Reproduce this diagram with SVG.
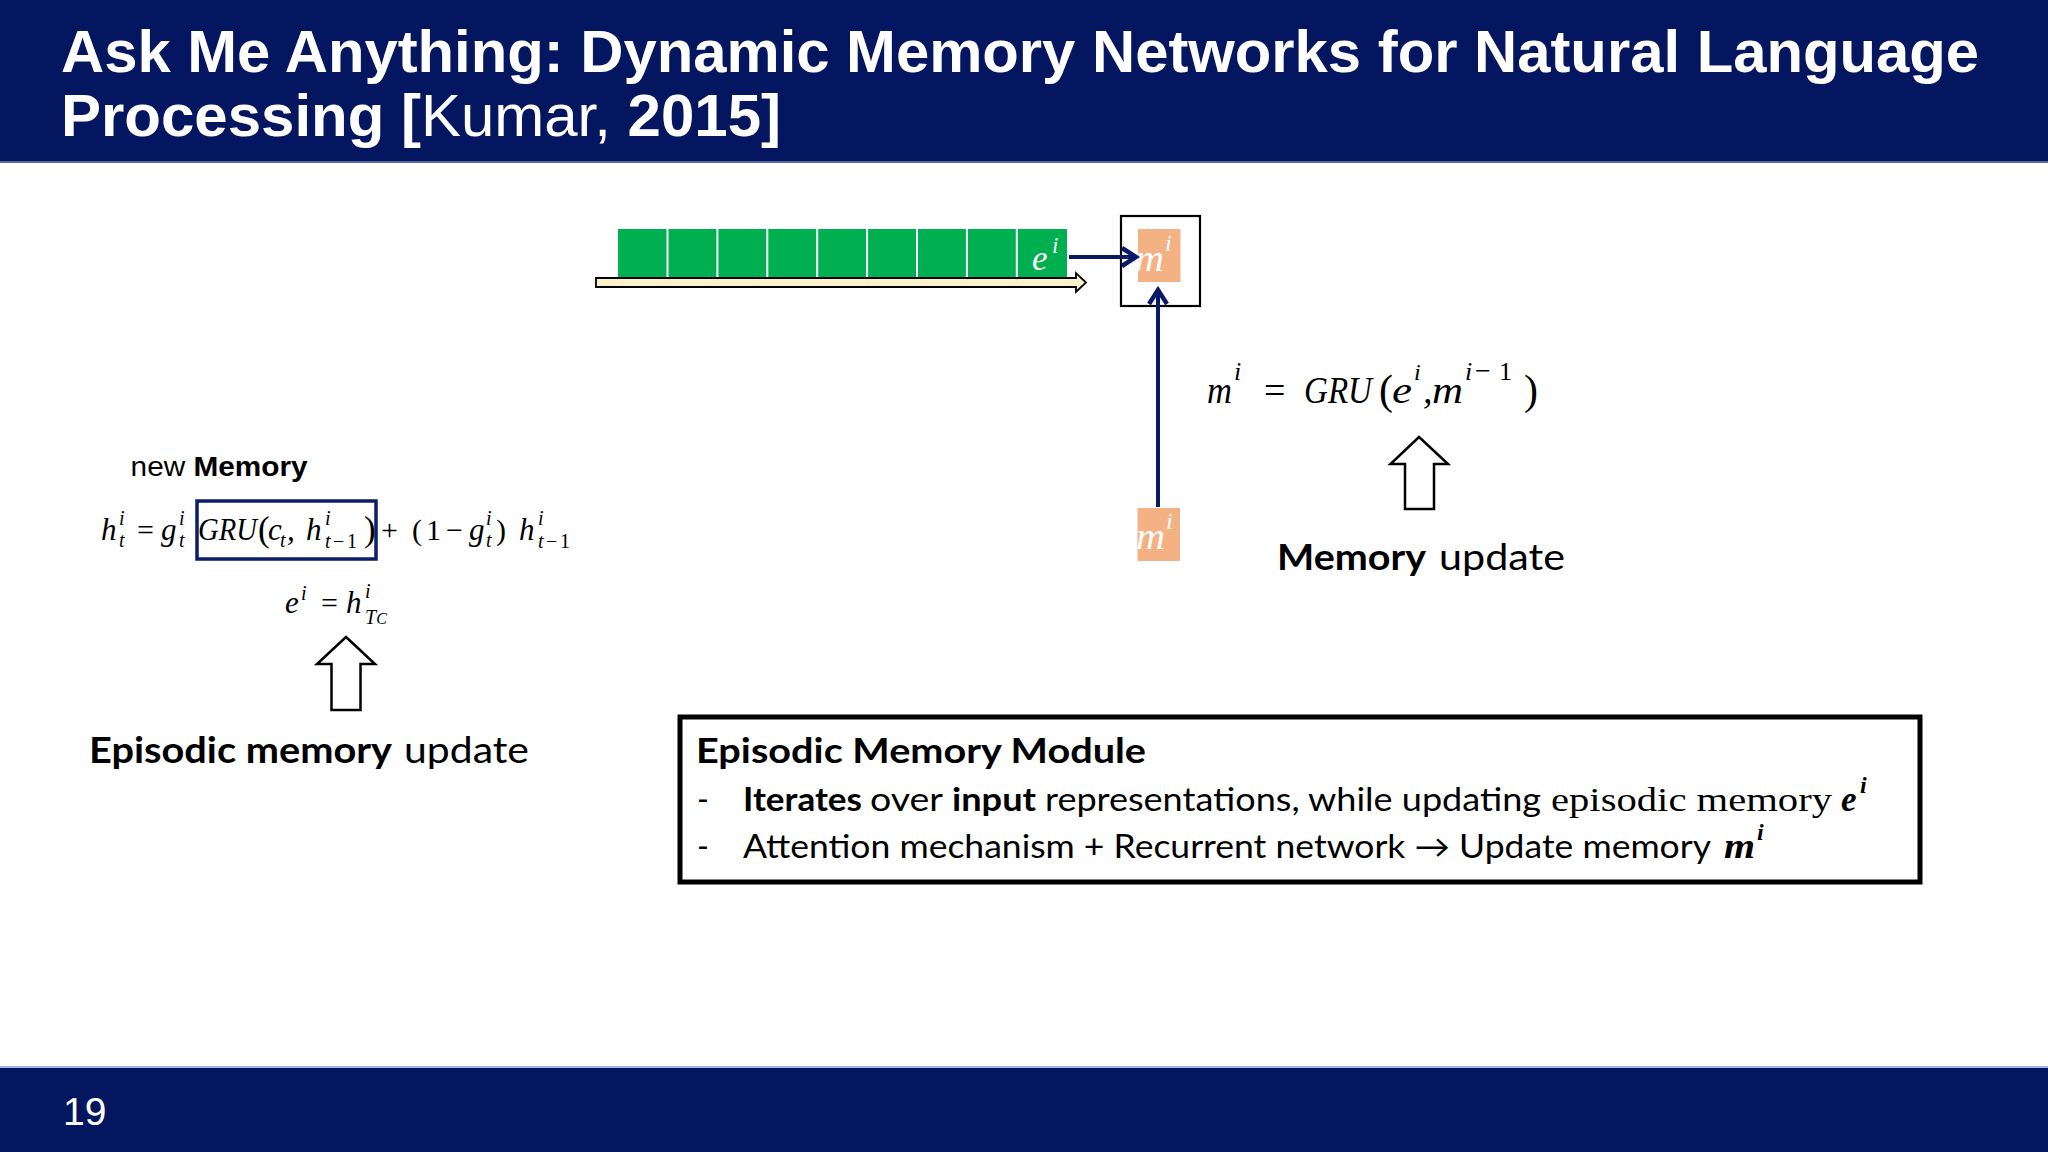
<svg xmlns="http://www.w3.org/2000/svg" width="2048" height="1152" viewBox="0 0 2048 1152">
<defs>
<style>
.title{font-family:"Liberation Sans",Arial,sans-serif;font-weight:bold;font-size:59px;fill:#fff}
.sans{font-family:"Liberation Sans",Arial,sans-serif;fill:#000}
.cal{font-family:Lato,"Open Sans",sans-serif;fill:#000}
.b{font-weight:bold}
.m{font-family:"Liberation Serif","DejaVu Serif",serif;font-style:italic;fill:#000}
.mu{font-family:"Liberation Serif","DejaVu Serif",serif;fill:#000}
.w{fill:#fff}
.hollow{fill:#fff;stroke:#000;stroke-width:2.5;stroke-linejoin:miter}
.navy{stroke:#0A1A66;stroke-width:4;fill:none}
</style>
<marker id="chev" markerUnits="userSpaceOnUse" markerWidth="24" markerHeight="24" viewBox="0 0 24 24" refX="20" refY="12" orient="auto">
<path d="M6,3 L20,12 L6,21" fill="none" stroke="#0A1A66" stroke-width="4.5" stroke-linejoin="miter"/>
</marker>
</defs>
<rect width="2048" height="1152" fill="#fff"/>

<g id="title-bar">
<rect x="0" y="0" width="2048" height="162" fill="#03165F"/>
<rect x="0" y="161" width="2048" height="2" fill="#5A6A9A"/>
<text class="title" x="61" y="72" textLength="1918" lengthAdjust="spacingAndGlyphs">Ask Me Anything: Dynamic Memory Networks for Natural Language</text>
<text class="title" x="61" y="136" textLength="720" lengthAdjust="spacingAndGlyphs">Processing [<tspan font-weight="normal">Kumar,</tspan> 2015]</text>
</g>

<g id="footer">
<rect x="0" y="1068" width="2048" height="84" fill="#03165F"/>
<rect x="0" y="1066" width="2048" height="2" fill="#A8B0E8"/>
<text class="sans" x="63" y="1125" font-size="39" style="fill:#fff">19</text>
</g>

<g id="episode-sequence">
<rect x="618" y="229" width="449" height="48" fill="#00B050"/>
<g stroke="#fff" stroke-width="2">
<line x1="667.5" y1="229" x2="667.5" y2="277"/>
<line x1="717.4" y1="229" x2="717.4" y2="277"/>
<line x1="767.3" y1="229" x2="767.3" y2="277"/>
<line x1="817.2" y1="229" x2="817.2" y2="277"/>
<line x1="867.1" y1="229" x2="867.1" y2="277"/>
<line x1="917" y1="229" x2="917" y2="277"/>
<line x1="966.9" y1="229" x2="966.9" y2="277"/>
<line x1="1016.8" y1="229" x2="1016.8" y2="277"/>
</g>
<text class="m w" x="1032" y="270" font-size="35" style="fill:#fff">e</text>
<text class="m w" x="1052" y="253" font-size="23" style="fill:#fff">i</text>
</g>

<g id="pass-arrow">
<polygon points="596,278 1076,278 1076,273 1086,282.5 1076,292 1076,287 596,287" fill="#FCF2CC" stroke="#000" stroke-width="1.8"/>
</g>

<g id="memory-current">
<rect x="1121" y="216" width="79" height="90" fill="none" stroke="#000" stroke-width="2.2"/>
<rect x="1138" y="229" width="42.5" height="53" fill="#F4B183"/>
<text class="m w" x="1135" y="271" font-size="37" textLength="29" lengthAdjust="spacingAndGlyphs" style="fill:#fff">m</text>
<text class="m w" x="1165" y="251" font-size="24" style="fill:#fff">i</text>
</g>

<g id="memory-previous">
<rect x="1137.5" y="508" width="42.5" height="53" fill="#F4B183"/>
<text class="m w" x="1136" y="549" font-size="37" textLength="29" lengthAdjust="spacingAndGlyphs" style="fill:#fff">m</text>
<text class="m w" x="1166" y="529" font-size="24" style="fill:#fff">i</text>
</g>

<g id="connectors">
<line class="navy" x1="1069" y1="257" x2="1136" y2="257" marker-end="url(#chev)"/>
<line class="navy" x1="1158" y1="507" x2="1158" y2="290" marker-end="url(#chev)"/>
</g>

<g id="hollow-arrows">
<polygon class="hollow" points="346,637 375,664 360.5,664 360.5,710 331.5,710 331.5,664 317,664"/>
<polygon class="hollow" points="1419,437 1448,464 1434,464 1434,509 1405,509 1405,464 1390.5,464"/>
</g>

<g id="episodic-formula">
<text class="sans" x="130.6" y="476" font-size="27" textLength="177" lengthAdjust="spacingAndGlyphs">new <tspan class="b">Memory</tspan></text>
<rect x="197" y="501" width="179" height="58" fill="none" stroke="#0E1C6B" stroke-width="3.5"/>
<text class="m" x="101" y="540" font-size="31">h</text>
<text class="m" x="119" y="525" font-size="20">i</text>
<text class="m" x="119" y="547" font-size="20">t</text>
<text class="mu" x="137" y="540" font-size="30">=</text>
<text class="m" x="161" y="540" font-size="31">g</text>
<text class="m" x="179" y="525" font-size="20">i</text>
<text class="m" x="179" y="547" font-size="20">t</text>
<text class="m" x="198" y="540" font-size="31" textLength="59" lengthAdjust="spacingAndGlyphs">GRU</text>
<text class="mu" x="258" y="541" font-size="35">(</text>
<text class="m" x="268" y="540" font-size="31">c</text>
<text class="m" x="280" y="547" font-size="20">t</text>
<text class="m" x="287" y="540" font-size="31">,</text>
<text class="m" x="306" y="540" font-size="31">h</text>
<text class="m" x="325" y="525" font-size="20">i</text>
<text class="m" x="325" y="548" font-size="20">t</text>
<text class="mu" x="333" y="548" font-size="20">−</text>
<text class="mu" x="347" y="548" font-size="20">1</text>
<text class="mu" x="364" y="541" font-size="35">)</text>
<text class="mu" x="381" y="540" font-size="30">+</text>
<text class="mu" x="412" y="540" font-size="30">(</text>
<text class="mu" x="426" y="540" font-size="30">1</text>
<text class="mu" x="446" y="540" font-size="30">−</text>
<text class="m" x="469" y="540" font-size="31">g</text>
<text class="m" x="486" y="525" font-size="20">i</text>
<text class="m" x="486" y="547" font-size="20">t</text>
<text class="mu" x="496" y="540" font-size="30">)</text>
<text class="m" x="519" y="540" font-size="31">h</text>
<text class="m" x="538" y="525" font-size="20">i</text>
<text class="m" x="538" y="548" font-size="20">t</text>
<text class="mu" x="546" y="548" font-size="20">−</text>
<text class="mu" x="560" y="548" font-size="20">1</text>

<text class="m" x="285" y="613" font-size="31">e</text>
<text class="m" x="301" y="600" font-size="20">i</text>
<text class="mu" x="321" y="613" font-size="30">=</text>
<text class="m" x="346" y="613" font-size="31">h</text>
<text class="m" x="365" y="598" font-size="20">i</text>
<text class="m" x="365" y="624" font-size="20">T<tspan font-size="16">C</tspan></text>

<text class="cal b" x="89" y="763" font-size="37" textLength="303" lengthAdjust="spacingAndGlyphs">Episodic memory</text>
<text class="cal" x="404" y="763" font-size="37" textLength="125" lengthAdjust="spacingAndGlyphs">update</text>
</g>

<g id="memory-formula">
<text class="m" x="1207" y="403" font-size="38" textLength="25" lengthAdjust="spacingAndGlyphs">m</text>
<text class="m" x="1234" y="380" font-size="26">i</text>
<text class="mu" x="1264" y="403" font-size="38">=</text>
<text class="m" x="1304" y="403" font-size="38" textLength="68" lengthAdjust="spacingAndGlyphs">GRU</text>
<text class="mu" x="1379" y="404" font-size="42">(</text>
<text class="m" x="1392" y="403" font-size="38" textLength="20" lengthAdjust="spacingAndGlyphs">e</text>
<text class="m" x="1414" y="380" font-size="24">i</text>
<text class="m" x="1423" y="403" font-size="38">,</text>
<text class="m" x="1432" y="403" font-size="38" textLength="31" lengthAdjust="spacingAndGlyphs">m</text>
<text class="m" x="1465" y="380" font-size="26">i</text>
<text class="mu" x="1475" y="380" font-size="28">−</text>
<text class="mu" x="1499" y="380" font-size="26">1</text>
<text class="mu" x="1524" y="404" font-size="42">)</text>
<text class="cal b" x="1277" y="570" font-size="37" textLength="149" lengthAdjust="spacingAndGlyphs">Memory</text>
<text class="cal" x="1439" y="570" font-size="37" textLength="126" lengthAdjust="spacingAndGlyphs">update</text>
</g>

<g id="module-box">
<rect x="680" y="717" width="1240" height="165" fill="#fff" stroke="#000" stroke-width="5"/>
<text class="cal b" x="696" y="763" font-size="35" textLength="450" lengthAdjust="spacingAndGlyphs">Episodic Memory Module</text>
<text class="cal" x="697" y="811" font-size="32">-</text>
<text class="cal b" x="743" y="811" font-size="32" textLength="119" lengthAdjust="spacingAndGlyphs">Iterates</text>
<text class="cal" x="870" y="811" font-size="32" textLength="73" lengthAdjust="spacingAndGlyphs">over</text>
<text class="cal b" x="952" y="811" font-size="32" textLength="84" lengthAdjust="spacingAndGlyphs">input</text>
<text class="cal" x="1045" y="811" font-size="32" textLength="496" lengthAdjust="spacingAndGlyphs">representations, while updating</text>
<text class="mu" x="1551" y="811" font-size="34" textLength="281" lengthAdjust="spacingAndGlyphs">episodic memory</text>
<text class="m b" x="1841" y="811" font-size="35">e</text>
<text class="m b" x="1860" y="793" font-size="24">i</text>
<text class="cal" x="697" y="858" font-size="32">-</text>
<text class="cal" x="743" y="858" font-size="32" textLength="968" lengthAdjust="spacingAndGlyphs">Attention mechanism + Recurrent network → Update memory</text>
<text class="m b" x="1724" y="858" font-size="35" textLength="31" lengthAdjust="spacingAndGlyphs">m</text>
<text class="m b" x="1757" y="840" font-size="24">i</text>
</g>
</svg>
